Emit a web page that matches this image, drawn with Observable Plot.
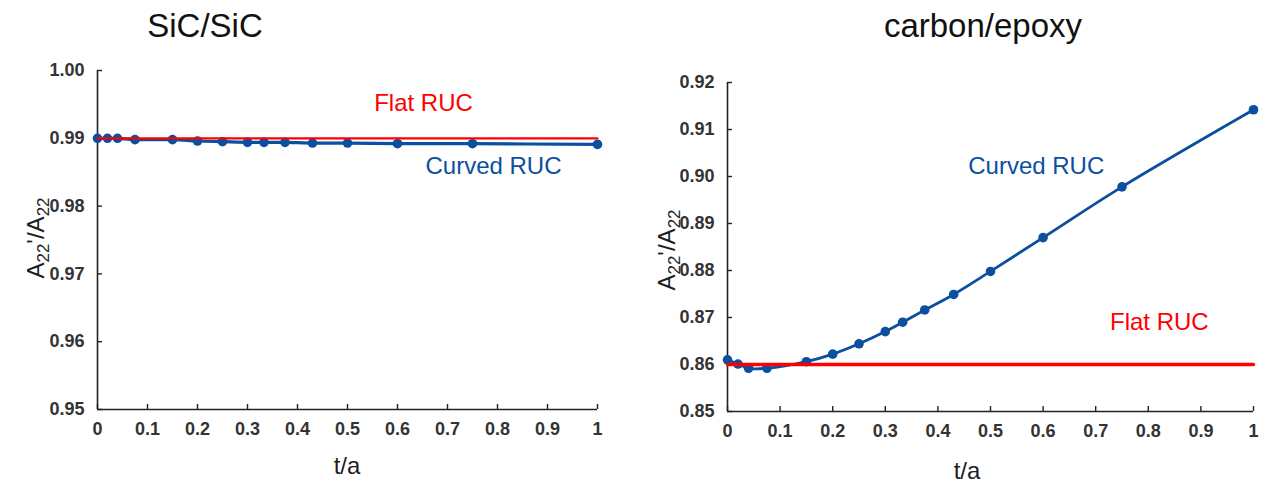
<!DOCTYPE html>
<html>
<head>
<meta charset="utf-8">
<script src="https://cdn.jsdelivr.net/npm/d3@7"></script>
<script src="https://cdn.jsdelivr.net/npm/@observablehq/plot@0.6"></script>
<style>
  html, body { margin: 0; padding: 0; background: #fff; }
  #wrap { position: relative; width: 1261px; height: 484px; overflow: hidden; font-family: "Liberation Sans", Arial, sans-serif; }
  #left { position: absolute; left: 0; top: 0; }
  #right { position: absolute; left: 630px; top: 0; }
</style>
</head>
<body>
<div id="wrap"><div id="left"></div><div id="right"></div></div>
<script>
// ---- data ----
const tA = [0, 0.02, 0.04, 0.075, 0.15, 0.2, 0.25, 0.3, 0.333, 0.375, 0.43, 0.5, 0.6, 0.75, 1];
const sicCurved = [0.9900, 0.9900, 0.9900, 0.9898, 0.9898, 0.9896, 0.9895, 0.9894, 0.9894, 0.9894, 0.9893, 0.9893, 0.9892, 0.9892, 0.9891];
const carbonCurved = [0.8610, 0.8601, 0.8592, 0.8592, 0.8606, 0.8622, 0.8644, 0.8670, 0.8690, 0.8716, 0.8749, 0.8798, 0.8870, 0.8978, 0.9142];
const flatT = [0, 1];
const sicFlat = [0.9900, 0.9900];
const carbonFlat = [0.8600, 0.8600];
const xTicks = [0, 0.1, 0.2, 0.3, 0.4, 0.5, 0.6, 0.7, 0.8, 0.9, 1];
const sicYTicks = [0.95, 0.96, 0.97, 0.98, 0.99, 1.00];
const carbonYTicks = [0.85, 0.86, 0.87, 0.88, 0.89, 0.90, 0.91, 0.92];
const sicNotes = ["Flat RUC", "Curved RUC"];
const sicNoteX = [0.652, 0.792];
const sicNoteY = [0.99513, 0.98584];
const carbonNotes = ["Curved RUC", "Flat RUC"];
const carbonNoteX = [0.587, 0.821];
const carbonNoteY = [0.9021, 0.8689];
const titles = ["SiC/SiC", "carbon/epoxy"];

const BLUE = "#0b4f9e";
const RED = "#ff0000";
const FONT = "'Liberation Sans', Arial, sans-serif";
const xFmt = d => d3.format("~g")(d);
const yFmt = d3.format(".2f");

function chart(o) {
  const svg = Plot.plot({
    width: o.width, height: 484,
    marginLeft: o.ml, marginRight: o.mr, marginTop: o.mt, marginBottom: o.mb,
    style: { fontFamily: FONT, fontSize: "18px", color: "#1e1e1e", background: "#fff" },
    x: { domain: [0, 1] },
    y: { domain: o.yDomain },
    marks: [
      Plot.ruleX([0], { stroke: "#222", strokeWidth: 1.6 }),
      Plot.ruleY([o.yDomain[0]], { stroke: "#222", strokeWidth: 1.6 }),
      Plot.axisX(xTicks, { tickSize: -5, tickFormat: () => "", label: null, stroke: "#222", strokeWidth: 1.4 }),
      Plot.axisX(xTicks, { tickSize: 0, tickPadding: 13, tickFormat: xFmt, label: null, fill: "#333", fontSize: 18, fontWeight: "bold" }),
      Plot.axisY(o.yTicks, { tickSize: -5, tickFormat: () => "", label: null, stroke: "#222", strokeWidth: 1.4 }),
      Plot.axisY(o.yTicks, { tickSize: 0, tickPadding: 13, tickFormat: yFmt, label: null, fill: "#333", fontSize: 18, fontWeight: "bold" }),
      Plot.line(tA, { x: tA, y: o.curved, stroke: BLUE, strokeWidth: o.bw, curve: "catmull-rom" }),
      Plot.dot(tA, { x: tA, y: o.curved, fill: BLUE, r: 4.8 }),
      Plot.line(flatT, { x: flatT, y: o.flat, stroke: RED, strokeWidth: o.rw }),
      Plot.text(o.notes, { x: o.noteX, y: o.noteY, text: d => d, fill: (d) => d === "Flat RUC" ? RED : BLUE, fontSize: 24, textAnchor: "middle", lineAnchor: "middle" })
    ]
  });
  const s = d3.select(svg);
  // title
  s.append("text").attr("x", o.titleX).attr("y", 37).attr("text-anchor", "middle")
    .attr("font-family", FONT).attr("font-size", 33).attr("fill", "#111").text(o.title);
  // x label
  s.append("text").attr("x", o.xlabX).attr("y", o.xlabY).attr("text-anchor", "middle")
    .attr("font-family", FONT).attr("font-size", 24).attr("fill", "#1e1e1e").text("t/a");
  // y label with subscripts
  const yl = s.append("text").attr("transform", `translate(${o.ylabX},${o.ylabY}) rotate(-90)`)
    .attr("text-anchor", "middle").attr("font-family", FONT).attr("font-size", 24).attr("fill", "#1e1e1e");
  yl.append("tspan").text("A");
  yl.append("tspan").attr("font-size", 17).attr("dy", 5).text("22");
  yl.append("tspan").attr("dy", -5).text("'/A");
  yl.append("tspan").attr("font-size", 17).attr("dy", 5).text("22");
  return svg;
}

document.getElementById("left").appendChild(chart({
  width: 630, ml: 97, mr: 33, mt: 70, mb: 75,
  yDomain: [0.95, 1.0], yTicks: sicYTicks, curved: sicCurved, flat: sicFlat,
  bw: 3.2, rw: 2.2, notes: sicNotes, noteX: sicNoteX, noteY: sicNoteY,
  title: titles[0], titleX: 205, xlabX: 347, xlabY: 474, ylabX: 44, ylabY: 238
}));
document.getElementById("right").appendChild(chart({
  width: 631, ml: 97, mr: 8, mt: 82, mb: 73,
  yDomain: [0.85, 0.92], yTicks: carbonYTicks, curved: carbonCurved, flat: carbonFlat,
  bw: 2.8, rw: 3.3, notes: carbonNotes, noteX: carbonNoteX, noteY: carbonNoteY,
  title: titles[1], titleX: 353, xlabX: 337, xlabY: 479, ylabX: 45, ylabY: 250
}));
</script>
</body>
</html>
